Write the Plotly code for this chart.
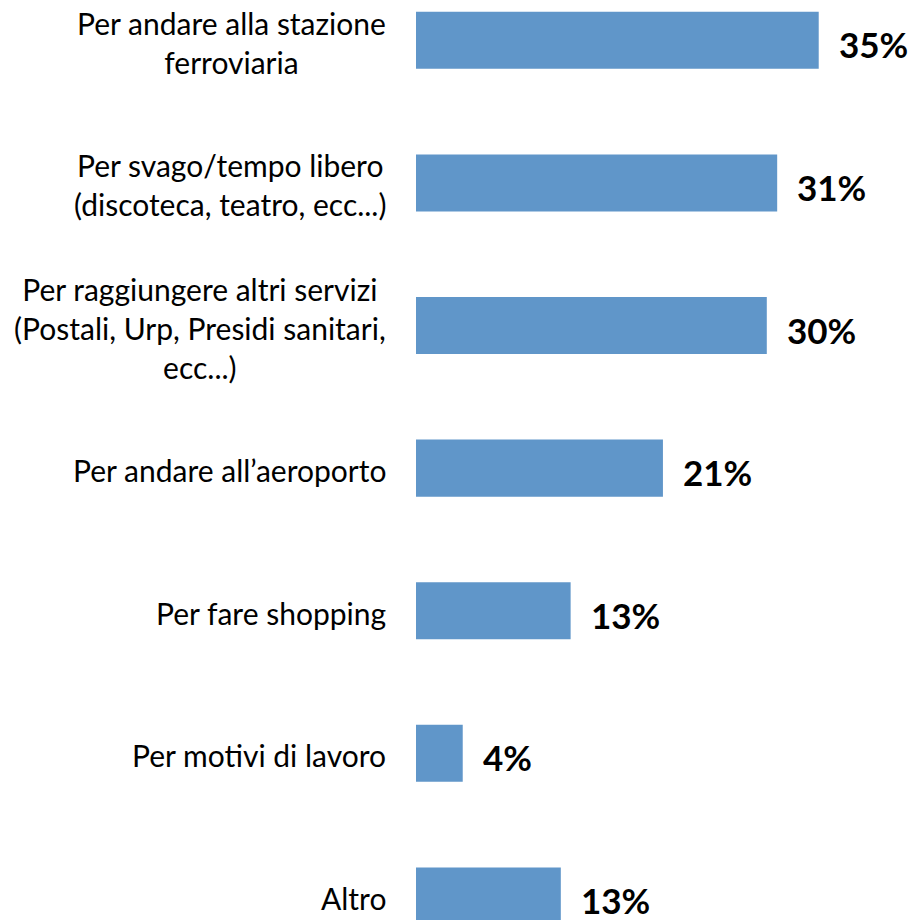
import plotly.graph_objects as go

categories = [
    "Per andare alla stazione<br>ferroviaria",
    "Per svago/tempo libero<br>(discoteca, teatro, ecc...)",
    "Per raggiungere altri servizi<br>(Postali, Urp, Presidi sanitari,<br>ecc...)",
    "Per andare all’aeroporto",
    "Per fare shopping",
    "Per motivi di lavoro",
    "Altro",
]
values = [34.9, 31.3, 30.4, 21.4, 13.4, 4.05, 12.55]
value_labels = ["35%", "31%", "30%", "21%", "13%", "4%", "13%"]

ids = list(range(len(categories)))

fig = go.Figure()
fig.add_trace(go.Bar(
    y=ids, x=values, orientation="h",
    marker=dict(color="#6096C9", line=dict(width=0)),
    hoverinfo="skip",
))

annotations = []
for i, (v, lab, cat) in enumerate(zip(values, value_labels, categories)):
    annotations.append(dict(
        x=v, y=i, xref="x", yref="y", text="<b>" + lab + "</b>", showarrow=False,
        xanchor="left", yanchor="middle", xshift=18, yshift=-4,
        font=dict(family="Lato", size=35, color="#000000"),
    ))
    annotations.append(dict(
        x=0, y=i, xref="paper", yref="y", text=cat, showarrow=False,
        xanchor="right", yanchor="middle", align="center", xshift=-28, yshift=-2,
        font=dict(family="Lato", size=30, color="#000000"),
    ))

fig.update_layout(
    width=916, height=920,
    margin=dict(l=416, r=0, t=0, b=0),
    paper_bgcolor="white", plot_bgcolor="white",
    bargap=0.6, showlegend=False,
    annotations=annotations,
    xaxis=dict(range=[0, 43.33], visible=False, fixedrange=True),
    yaxis=dict(range=[6.169, -0.283], visible=False, fixedrange=True),
)

fig.write_html(
    "out.html",
    config={"displayModeBar": False, "staticPlot": True},
    post_script="document.body.style.margin='0';document.body.style.overflow='hidden';",
)
